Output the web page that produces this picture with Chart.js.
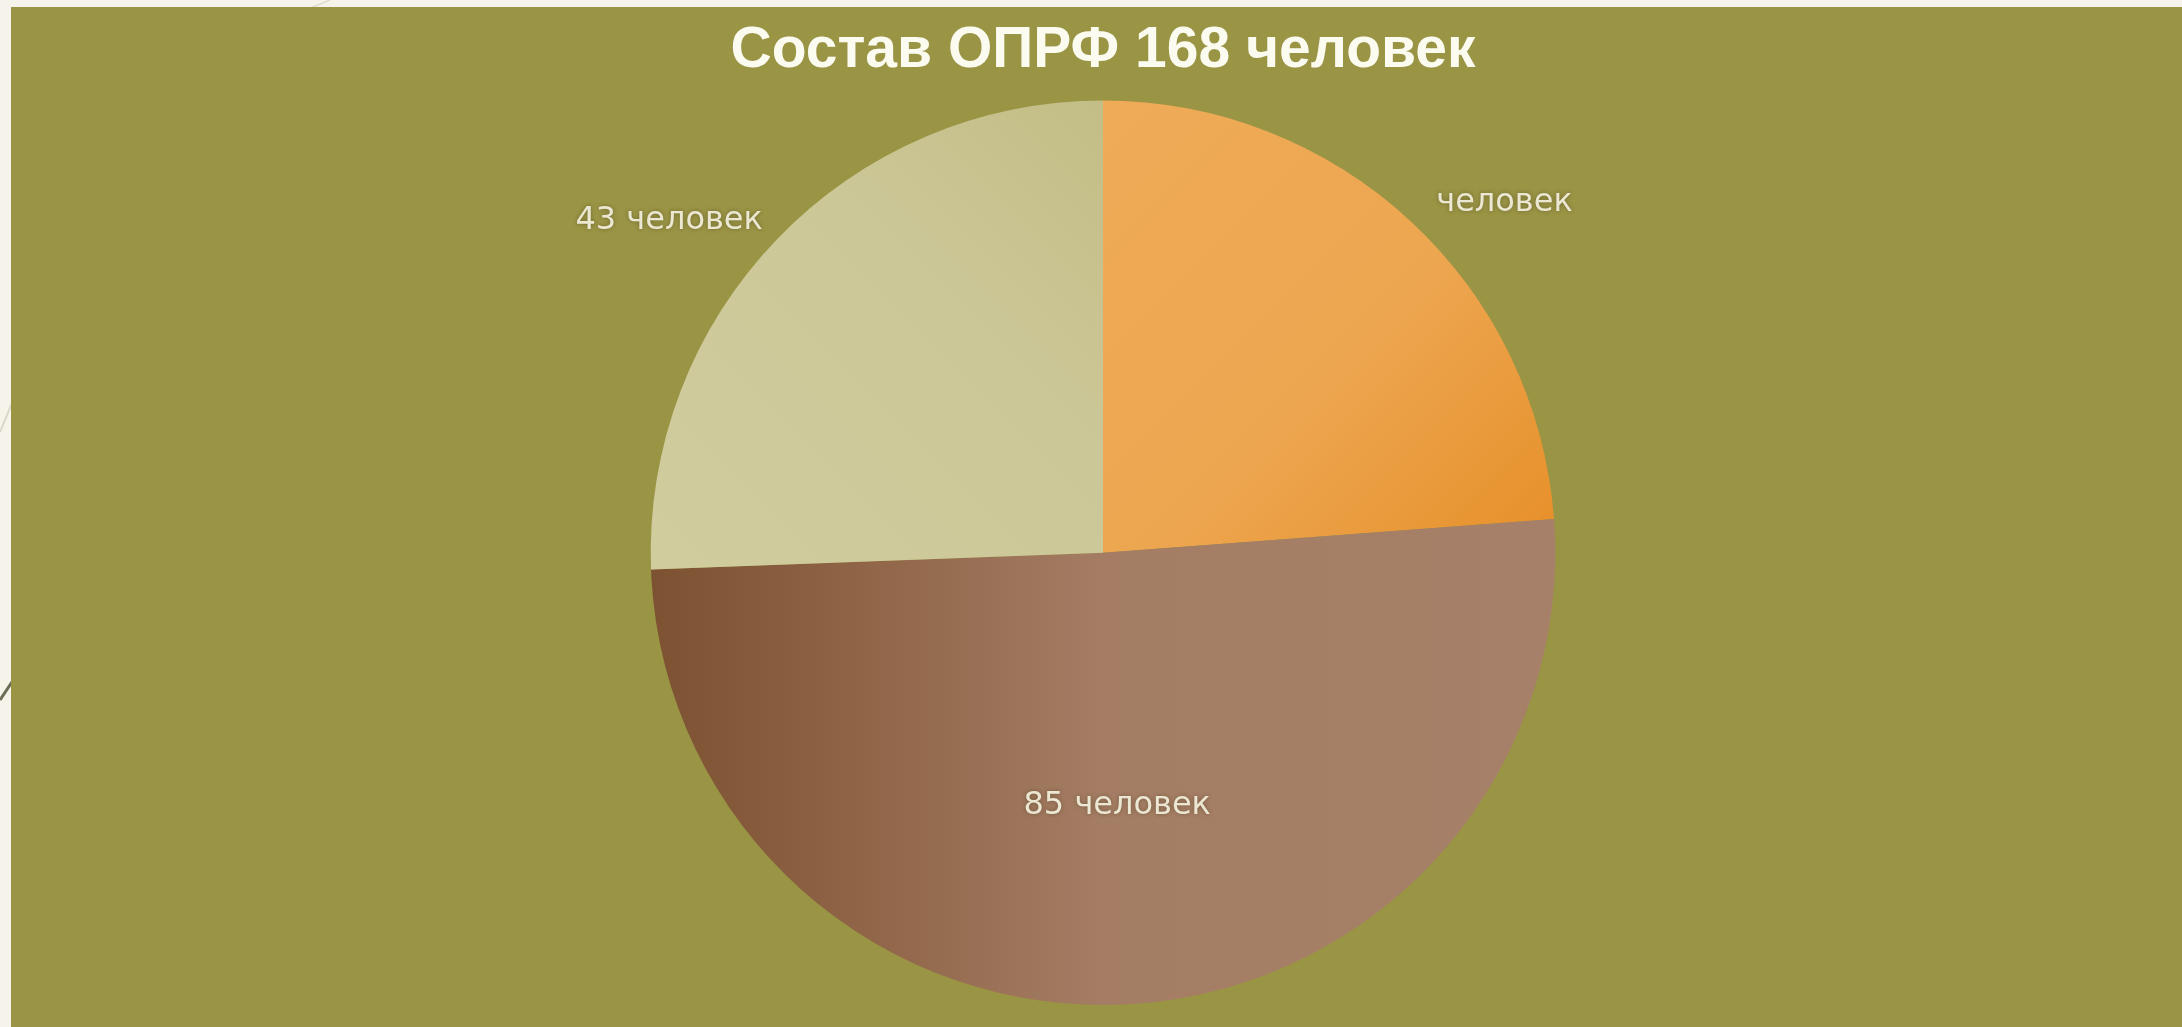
<!DOCTYPE html>
<html>
<head>
<meta charset="utf-8">
<script src="https://cdn.jsdelivr.net/npm/chart.js@4"></script>
<style>
  html, body { margin: 0; padding: 0; }
  body { width: 2182px; height: 1027px; background: #f6f4ea; position: relative; overflow: hidden; }
  #deco { position: absolute; left: 0; top: 0; }
  #panel { position: absolute; left: 11px; top: 7px; width: 2171px; height: 1020px; background: #9a9445; }
  canvas { display: block; }
</style>
</head>
<body>
<svg id="deco" width="2182" height="1027">
  <line x1="0" y1="432" x2="40" y2="335" stroke="#d9d8cc" stroke-width="2"/>
  <line x1="0" y1="700" x2="40" y2="640" stroke="#6b6e55" stroke-width="3"/>
  <line x1="300" y1="12" x2="330" y2="0" stroke="#dedcd0" stroke-width="1.5"/>
</svg>
<div id="panel"><canvas id="c" width="2171" height="1020"></canvas></div>
<script>
// ---- data ----
const titleText = "Состав ОПРФ 168 человек";
const categories = ["человек", "85 человек", "43 человек"];   // slice label texts as shown
const values = [40, 85, 43];

// ---- styling helpers ----
function geom(chart) {
  const a = chart.chartArea;
  const cx = (a.left + a.right) / 2, cy = (a.top + a.bottom) / 2;
  const r = Math.min(a.right - a.left, a.bottom - a.top) / 2;
  return { cx, cy, r };
}
function sliceFill(ctx) {
  const chart = ctx.chart;
  const fallback = ["#eea852", "#a47f66", "#cec99b"][ctx.dataIndex];
  if (!chart.chartArea) return fallback;
  const { cx, cy, r } = geom(chart);
  const c = chart.ctx;
  let g;
  if (ctx.dataIndex === 0) {
    g = c.createLinearGradient(cx, cy - r, cx + r, cy);
    g.addColorStop(0, "#efab58");
    g.addColorStop(0.55, "#eda650");
    g.addColorStop(1, "#e68f28");
  } else if (ctx.dataIndex === 1) {
    g = c.createLinearGradient(cx - r, cy, cx + r, cy);
    g.addColorStop(0, "#7d5232");
    g.addColorStop(0.25, "#916649");
    g.addColorStop(0.5, "#a47d64");
    g.addColorStop(1, "#a68068");
  } else {
    g = c.createLinearGradient(cx - r, cy, cx, cy - r);
    g.addColorStop(0, "#d0cc9e");
    g.addColorStop(0.6, "#ccc797");
    g.addColorStop(1, "#c3bd86");
  }
  return g;
}

const sliceLabels = {
  id: "sliceLabels",
  afterDatasetsDraw(chart) {
    const meta = chart.getDatasetMeta(0);
    const total = values.reduce((s, v) => s + v, 0);
    const c = chart.ctx;
    c.save();
    c.font = "32px 'DejaVu Sans'";
    c.fillStyle = "#ebe7d2";
    c.shadowColor = "rgba(60,50,20,0.45)";
    c.shadowBlur = 4;
    c.textBaseline = "middle";
    meta.data.forEach((arc, i) => {
      const p = arc.getProps(["x", "y", "startAngle", "endAngle", "outerRadius"], true);
      const mid = (p.startAngle + p.endAngle) / 2;
      const txt = categories[i];
      if (values[i] / total > 0.4) {
        const rr = p.outerRadius * 0.56;
        c.textAlign = "center";
        c.fillText(txt, p.x + Math.cos(mid) * rr, p.y + Math.sin(mid) * rr);
      } else {
        const rr = p.outerRadius + 20;
        const right = Math.cos(mid) >= 0;
        const x = p.x + Math.cos(mid) * rr + (right ? 12 : 0);
        const y = p.y + Math.sin(mid) * rr - 4;
        c.textAlign = right ? "left" : "right";
        c.fillText(txt, x, y);
      }
    });
    c.restore();
  }
};

new Chart(document.getElementById("c"), {
  type: "pie",
  data: {
    labels: categories,
    datasets: [{ data: values, backgroundColor: sliceFill, borderWidth: 0, hoverOffset: 0 }]
  },
  options: {
    responsive: false,
    devicePixelRatio: 1,
    animation: false,
    layout: { padding: { top: 0, bottom: 22, left: 13, right: 0 } },
    plugins: {
      legend: { display: false },
      tooltip: { enabled: false },
      title: {
        display: true,
        text: titleText,
        color: "#fbfbf0",
        font: { family: "'Liberation Sans', Arial, sans-serif", size: 57, weight: "bold", lineHeight: 1.2 },
        padding: { top: 10, bottom: 15 }
      }
    }
  },
  plugins: [sliceLabels]
});
</script>
</body>
</html>
